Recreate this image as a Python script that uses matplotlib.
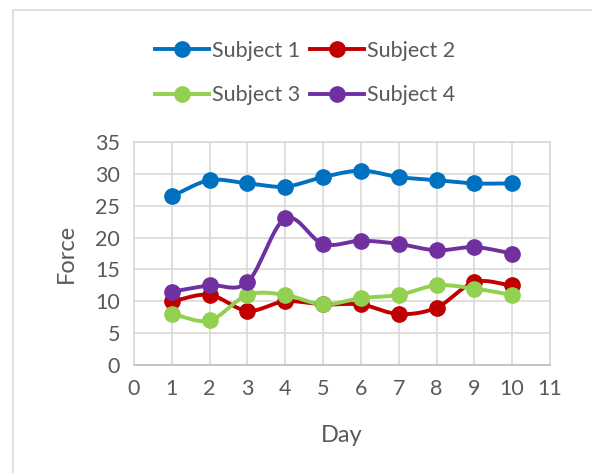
import numpy as np
import matplotlib
matplotlib.use("Agg")
import matplotlib.pyplot as plt
from matplotlib.patches import Rectangle
from matplotlib.lines import Line2D

# data
days = [1, 2, 3, 4, 5, 6, 7, 8, 9, 10]
subject1 = [26.5, 29, 28.5, 28, 29.5, 30.5, 29.5, 29, 28.5, 28.5]
subject2 = [10, 11, 8.5, 10, 9.5, 9.5, 8, 9, 13, 12.5]
subject3 = [8, 7, 11, 11, 9.5, 10.5, 11, 12.5, 12, 11]
subject4 = [11.5, 12.5, 13, 23, 19, 19.5, 19, 18, 18.5, 17.5]
names = ["Subject 1", "Subject 2", "Subject 3", "Subject 4"]
colors = ["#0070C0", "#C00000", "#92D050", "#7030A0"]

plt.rcParams['font.family'] = ['Lato', 'DejaVu Sans']
txt = "#595959"
grid = "#D9D9D9"


def smooth(x, y, n=20):
    # excel-like smoothed line (catmull-rom through the points)
    x = np.asarray(x, float)
    y = np.asarray(y, float)
    px = np.concatenate([[2 * x[0] - x[1]], x, [2 * x[-1] - x[-2]]])
    py = np.concatenate([[2 * y[0] - y[1]], y, [2 * y[-1] - y[-2]]])
    t = np.linspace(0, 1, n)
    xs, ys = [], []
    for i in range(1, len(px) - 2):
        for p, out in ((px, xs), (py, ys)):
            p0, p1, p2, p3 = p[i - 1], p[i], p[i + 1], p[i + 2]
            c = 0.5 * ((2 * p1) + (-p0 + p2) * t + (2 * p0 - 5 * p1 + 4 * p2 - p3) * t ** 2
                       + (-p0 + 3 * p1 - 3 * p2 + p3) * t ** 3)
            out.extend(c)
    return xs, ys


fig = plt.figure(figsize=(5.92, 4.73), dpi=100)
fig.patches.append(Rectangle((13 / 592, -0.01), 1.0, 1 - 10 / 473 + 0.01,
                             transform=fig.transFigure, fill=False,
                             edgecolor="#D9D9D9", lw=1.2))
ax = fig.add_axes([0.2264, 0.2283, 0.7026, 0.4715])

handles = []
for vals, c, nm in zip([subject1, subject2, subject3, subject4], colors, names):
    sx, sy = smooth(days, vals)
    ax.plot(sx, sy, color=c, lw=2.8, solid_capstyle='round', zorder=3)
    ax.plot(days, vals, 'o', color=c, ms=11, zorder=4)
    handles.append(Line2D([], [], color=c, lw=2.8, marker='o', ms=11))

ax.set_xlim(0, 11)
ax.set_ylim(0, 35)
ax.set_xticks(range(0, 12))
ax.set_yticks(range(0, 36, 5))
ax.grid(True, color=grid, lw=1.2)
ax.set_axisbelow(True)
for s in ax.spines.values():
    s.set_color(grid)
    s.set_linewidth(1.2)
ax.spines['bottom'].set_color("#BFBFBF")
ax.tick_params(length=0, labelsize=15.5, colors=txt, pad=10)
ax.set_xlabel("Day", fontsize=17, color=txt, labelpad=19)
ax.set_ylabel("Force", fontsize=17, color=txt, labelpad=13)

# legend fills column-wise, so order 1,3,2,4 to get rows 1 2 / 3 4
order = [0, 2, 1, 3]
fig.legend([handles[i] for i in order], [names[i] for i in order],
           loc='upper center', bbox_to_anchor=(0.515, 0.955),
           ncol=2, frameon=False, fontsize=15.5, labelcolor=txt,
           handlelength=2.5, handletextpad=0.15, columnspacing=0.45,
           labelspacing=1.15)

fig.savefig("out.png", dpi=100)
